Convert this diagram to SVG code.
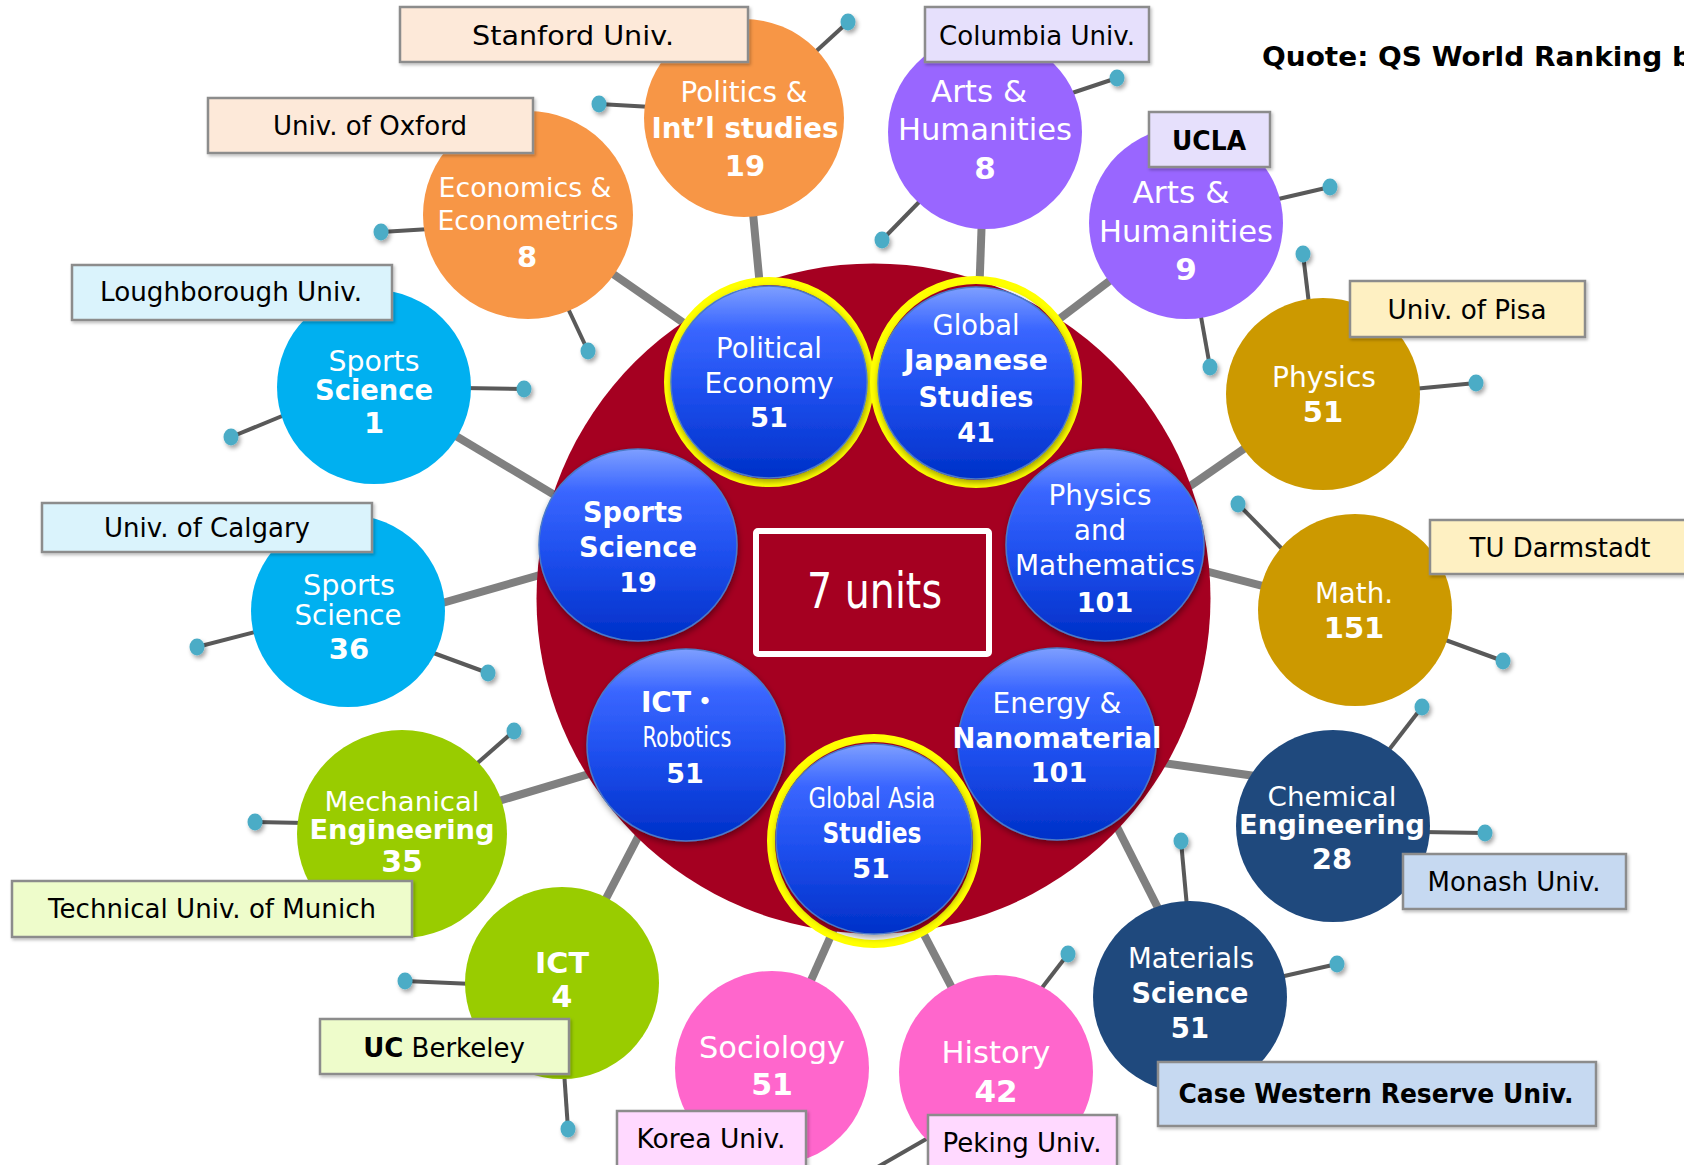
<svg xmlns="http://www.w3.org/2000/svg" width="1684" height="1165" viewBox="0 0 1684 1165">
<defs>
<style>
.w{font-family:"DejaVu Sans","Noto Sans CJK JP",sans-serif;fill:#fff;text-anchor:middle;font-weight:normal}
.bd{font-weight:bold}
.lb{font-family:"DejaVu Sans",sans-serif;fill:#000;text-anchor:middle;font-size:26px}
.box{stroke:#8C8C8C;stroke-width:2.5;filter:url(#sh2)}
.thick{stroke:#808080;stroke-width:8;fill:none}
.thin{stroke:#595959;stroke-width:4;fill:none}
.dot{fill:#4BACC6;filter:url(#sh1)}
.bl{fill:url(#bg);stroke:#4A7AC8;stroke-width:1.5;filter:url(#sh3)}
.ring{fill:none;stroke:#FFFF00;stroke-width:8}
.or{fill:#F79646}.pu{fill:#9966FF}.cy{fill:#00B0F0}.go{fill:#CC9900}.gr{fill:#99CC00}.pk{fill:#FF66CC}.nv{fill:#1F497D}
</style>
<linearGradient id="bg" x1="0" y1="0" x2="0" y2="1">
<stop offset="0" stop-color="#7E9FFF"/>
<stop offset="0.22" stop-color="#3A66FF"/>
<stop offset="0.55" stop-color="#1E4FEE"/>
<stop offset="1" stop-color="#0030C8"/>
</linearGradient>
<filter id="sh1" x="-50%" y="-50%" width="200%" height="200%"><feDropShadow dx="2" dy="3" stdDeviation="2" flood-color="#000" flood-opacity="0.35"/></filter>
<filter id="sh2" x="-10%" y="-20%" width="120%" height="140%"><feDropShadow dx="1.5" dy="2" stdDeviation="1.5" flood-color="#000" flood-opacity="0.25"/></filter>
<filter id="sh3" x="-20%" y="-20%" width="140%" height="140%"><feDropShadow dx="1" dy="3" stdDeviation="3" flood-color="#000" flood-opacity="0.4"/></filter>
</defs>
<rect width="1684" height="1165" fill="#fff"/>

<g id="connectors">
<line class="thick" x1="744" y1="118" x2="769" y2="382"/>
<line class="thick" x1="528" y1="215" x2="769" y2="382"/>
<line class="thick" x1="985" y1="132" x2="976" y2="382"/>
<line class="thick" x1="1186" y1="223" x2="976" y2="382"/>
<line class="thick" x1="374" y1="387" x2="638" y2="545"/>
<line class="thick" x1="348" y1="630" x2="638" y2="547"/>
<line class="thick" x1="1323" y1="394" x2="1105" y2="545"/>
<line class="thick" x1="1355" y1="610" x2="1105" y2="545"/>
<line class="thick" x1="402" y1="830" x2="686" y2="745"/>
<line class="thick" x1="562" y1="983" x2="686" y2="745"/>
<line class="thick" x1="772" y1="1068" x2="874" y2="839"/>
<line class="thick" x1="996" y1="1072" x2="874" y2="839"/>
<line class="thick" x1="1057" y1="748" x2="1333" y2="787"/>
<line class="thick" x1="1075" y1="744" x2="1203" y2="997"/>

<line class="thin" x1="812" y1="55" x2="848" y2="22"/>
<line class="thin" x1="652" y1="107" x2="599" y2="104"/>
<line class="thin" x1="430" y1="229" x2="381" y2="232"/>
<line class="thin" x1="565" y1="302" x2="588" y2="351"/>
<line class="thin" x1="1066" y1="95" x2="1117" y2="78"/>
<line class="thin" x1="923" y1="198" x2="882" y2="240"/>
<line class="thin" x1="1274" y1="200" x2="1330" y2="187"/>
<line class="thin" x1="1200" y1="311" x2="1210" y2="367"/>
<line class="thin" x1="463" y1="388" x2="524" y2="389"/>
<line class="thin" x1="287" y1="414" x2="231" y2="437"/>
<line class="thin" x1="259" y1="631" x2="197" y2="647"/>
<line class="thin" x1="428" y1="651" x2="488" y2="673"/>
<line class="thin" x1="1309" y1="304" x2="1303" y2="254"/>
<line class="thin" x1="1413" y1="389" x2="1476" y2="383"/>
<line class="thin" x1="1287" y1="554" x2="1238" y2="504"/>
<line class="thin" x1="1440" y1="638" x2="1503" y2="661"/>
<line class="thin" x1="473" y1="767" x2="514" y2="731"/>
<line class="thin" x1="305" y1="823" x2="255" y2="822"/>
<line class="thin" x1="473" y1="984" x2="405" y2="981"/>
<line class="thin" x1="564" y1="1071" x2="568" y2="1129"/>
<line class="thin" x1="1038" y1="993" x2="1068" y2="954"/>
<line class="thin" x1="935" y1="1134" x2="855" y2="1180"/>
<line class="thin" x1="1385" y1="755" x2="1422" y2="707"/>
<line class="thin" x1="1422" y1="832" x2="1485" y2="833"/>
<line class="thin" x1="1187" y1="907" x2="1181" y2="841"/>
<line class="thin" x1="1280" y1="977" x2="1337" y2="964"/>

<ellipse class="dot" cx="848" cy="22" rx="7.5" ry="8.5"/>
<ellipse class="dot" cx="599" cy="104" rx="7.5" ry="8.5"/>
<ellipse class="dot" cx="381" cy="232" rx="7.5" ry="8.5"/>
<ellipse class="dot" cx="588" cy="351" rx="7.5" ry="8.5"/>
<ellipse class="dot" cx="1117" cy="78" rx="7.5" ry="8.5"/>
<ellipse class="dot" cx="882" cy="240" rx="7.5" ry="8.5"/>
<ellipse class="dot" cx="1330" cy="187" rx="7.5" ry="8.5"/>
<ellipse class="dot" cx="1210" cy="367" rx="7.5" ry="8.5"/>
<ellipse class="dot" cx="524" cy="389" rx="7.5" ry="8.5"/>
<ellipse class="dot" cx="231" cy="437" rx="7.5" ry="8.5"/>
<ellipse class="dot" cx="197" cy="647" rx="7.5" ry="8.5"/>
<ellipse class="dot" cx="488" cy="673" rx="7.5" ry="8.5"/>
<ellipse class="dot" cx="1303" cy="254" rx="7.5" ry="8.5"/>
<ellipse class="dot" cx="1476" cy="383" rx="7.5" ry="8.5"/>
<ellipse class="dot" cx="1238" cy="504" rx="7.5" ry="8.5"/>
<ellipse class="dot" cx="1503" cy="661" rx="7.5" ry="8.5"/>
<ellipse class="dot" cx="514" cy="731" rx="7.5" ry="8.5"/>
<ellipse class="dot" cx="255" cy="822" rx="7.5" ry="8.5"/>
<ellipse class="dot" cx="405" cy="981" rx="7.5" ry="8.5"/>
<ellipse class="dot" cx="568" cy="1129" rx="7.5" ry="8.5"/>
<ellipse class="dot" cx="1068" cy="954" rx="7.5" ry="8.5"/>
<ellipse class="dot" cx="1422" cy="707" rx="7.5" ry="8.5"/>
<ellipse class="dot" cx="1485" cy="833" rx="7.5" ry="8.5"/>
<ellipse class="dot" cx="1181" cy="841" rx="7.5" ry="8.5"/>
<ellipse class="dot" cx="1337" cy="964" rx="7.5" ry="8.5"/>
</g>

<g id="hub">
<ellipse cx="873.5" cy="598.5" rx="337" ry="335" fill="#A50021"/>
<rect x="756" y="531" width="233" height="123" rx="2" fill="none" stroke="#fff" stroke-width="6"/>
<text class="w" font-size="50" x="874.5" y="608" textLength="135" lengthAdjust="spacingAndGlyphs">7 units</text>
</g>

<g id="u-political-economy">
<ellipse class="ring" cx="769" cy="382" rx="101" ry="101"/>
<ellipse class="bl" cx="769" cy="382" rx="98" ry="96"/>
<text class="w" font-size="27.5" x="769" y="358" textLength="106" lengthAdjust="spacingAndGlyphs">Political</text>
<text class="w" font-size="27.5" x="769" y="393" textLength="129" lengthAdjust="spacingAndGlyphs">Economy</text>
<text class="w bd" font-size="27" x="769" y="427">51</text>
</g>
<g id="u-global-japanese">
<ellipse class="ring" cx="976" cy="382" rx="102" ry="102"/>
<ellipse class="bl" cx="976" cy="383" rx="98" ry="96"/>
<text class="w" font-size="27.5" x="976" y="335" textLength="87" lengthAdjust="spacingAndGlyphs">Global</text>
<text class="w bd" font-size="27.5" x="976" y="370" textLength="144" lengthAdjust="spacingAndGlyphs">Japanese</text>
<text class="w bd" font-size="27.5" x="976" y="407" textLength="115" lengthAdjust="spacingAndGlyphs">Studies</text>
<text class="w bd" font-size="27" x="976" y="442">41</text>
</g>
<g id="u-sports-science">
<ellipse class="bl" cx="638" cy="545" rx="99" ry="96"/>
<text class="w bd" font-size="27.5" x="633" y="522" textLength="100" lengthAdjust="spacingAndGlyphs">Sports</text>
<text class="w bd" font-size="27.5" x="638" y="557" textLength="118" lengthAdjust="spacingAndGlyphs">Science</text>
<text class="w bd" font-size="27" x="638" y="592">19</text>
</g>
<g id="u-physics-math">
<ellipse class="bl" cx="1105" cy="545" rx="99" ry="96"/>
<text class="w" font-size="27.5" x="1100" y="505" textLength="103" lengthAdjust="spacingAndGlyphs">Physics</text>
<text class="w" font-size="27.5" x="1100" y="540" textLength="52" lengthAdjust="spacingAndGlyphs">and</text>
<text class="w" font-size="27.5" x="1105" y="575" textLength="180" lengthAdjust="spacingAndGlyphs">Mathematics</text>
<text class="w bd" font-size="27" x="1105" y="612">101</text>
</g>
<g id="u-ict-robotics">
<ellipse class="bl" cx="686" cy="745" rx="99" ry="96"/>
<text class="w bd" font-size="28" x="680" y="712">ICT・</text>
<text class="w" font-size="27.5" x="687" y="747" textLength="89" lengthAdjust="spacingAndGlyphs">Robotics</text>
<text class="w bd" font-size="27" x="685" y="783">51</text>
</g>
<g id="u-energy-nano">
<ellipse class="bl" cx="1057" cy="744" rx="99" ry="96"/>
<text class="w" font-size="27.5" x="1057" y="713" textLength="129" lengthAdjust="spacingAndGlyphs">Energy &amp;</text>
<text class="w bd" font-size="27.5" x="1057" y="748" textLength="209" lengthAdjust="spacingAndGlyphs">Nanomaterial</text>
<text class="w bd" font-size="27" x="1059" y="782">101</text>
</g>
<g id="u-global-asia">
<ellipse class="ring" cx="874" cy="841" rx="103" ry="103"/>
<ellipse class="bl" cx="874" cy="839" rx="98" ry="95"/>
<text class="w" font-size="27.5" x="872" y="808" textLength="127" lengthAdjust="spacingAndGlyphs">Global Asia</text>
<text class="w bd" font-size="27.5" x="872" y="843" textLength="99" lengthAdjust="spacingAndGlyphs">Studies</text>
<text class="w bd" font-size="27" x="871" y="878">51</text>
</g>

<g id="n-politics">
<ellipse class="or" cx="744" cy="118" rx="100" ry="99"/>
<text class="w" font-size="27.5" x="744" y="102" textLength="127" lengthAdjust="spacingAndGlyphs">Politics &amp;</text>
<text class="w bd" font-size="27.5" x="745" y="138" textLength="187" lengthAdjust="spacingAndGlyphs">Int’l studies</text>
<text class="w bd" font-size="29" x="745" y="176">19</text>
</g>
<g id="n-economics">
<ellipse class="or" cx="528" cy="215" rx="105" ry="104"/>
<text class="w" font-size="26.5" x="525" y="197" textLength="173" lengthAdjust="spacingAndGlyphs">Economics &amp;</text>
<text class="w" font-size="26.5" x="528" y="230" textLength="181" lengthAdjust="spacingAndGlyphs">Econometrics</text>
<text class="w bd" font-size="29" x="527" y="267">8</text>
</g>
<g id="n-arts-8">
<ellipse class="pu" cx="985" cy="132" rx="97" ry="97"/>
<text class="w" font-size="30" x="979" y="102" textLength="96" lengthAdjust="spacingAndGlyphs">Arts &amp;</text>
<text class="w" font-size="30" x="985" y="140" textLength="174" lengthAdjust="spacingAndGlyphs">Humanities</text>
<text class="w bd" font-size="31" x="985" y="179">8</text>
</g>
<g id="n-arts-9">
<ellipse class="pu" cx="1186" cy="223" rx="97" ry="96"/>
<text class="w" font-size="30" x="1181" y="203" textLength="97" lengthAdjust="spacingAndGlyphs">Arts &amp;</text>
<text class="w" font-size="30" x="1186" y="242" textLength="174" lengthAdjust="spacingAndGlyphs">Humanities</text>
<text class="w bd" font-size="31" x="1186" y="280">9</text>
</g>
<g id="n-sports-1">
<ellipse class="cy" cx="374" cy="387" rx="97" ry="97"/>
<text class="w" font-size="27.5" x="374" y="371" textLength="91" lengthAdjust="spacingAndGlyphs">Sports</text>
<text class="w bd" font-size="27.5" x="374" y="400" textLength="118" lengthAdjust="spacingAndGlyphs">Science</text>
<text class="w bd" font-size="29" x="374" y="433">1</text>
</g>
<g id="n-sports-36">
<ellipse class="cy" cx="348" cy="611" rx="97" ry="96"/>
<text class="w" font-size="27.5" x="349" y="595" textLength="92" lengthAdjust="spacingAndGlyphs">Sports</text>
<text class="w" font-size="27.5" x="348" y="625" textLength="107" lengthAdjust="spacingAndGlyphs">Science</text>
<text class="w bd" font-size="29" x="349" y="659">36</text>
</g>
<g id="n-physics">
<ellipse class="go" cx="1323" cy="394" rx="97" ry="96"/>
<text class="w" font-size="27.5" x="1324" y="387" textLength="104" lengthAdjust="spacingAndGlyphs">Physics</text>
<text class="w bd" font-size="29" x="1323" y="422">51</text>
</g>
<g id="n-math">
<ellipse class="go" cx="1355" cy="610" rx="97" ry="96"/>
<text class="w" font-size="27.5" x="1354" y="603" textLength="78" lengthAdjust="spacingAndGlyphs">Math.</text>
<text class="w bd" font-size="29" x="1354" y="638">151</text>
</g>
<g id="n-mechanical">
<ellipse class="gr" cx="402" cy="834" rx="105" ry="104"/>
<text class="w" font-size="27" x="402" y="811" textLength="155" lengthAdjust="spacingAndGlyphs">Mechanical</text>
<text class="w bd" font-size="27" x="402" y="839" textLength="185" lengthAdjust="spacingAndGlyphs">Engineering</text>
<text class="w bd" font-size="30" x="402" y="872">35</text>
</g>
<g id="n-ict">
<ellipse class="gr" cx="562" cy="983" rx="97" ry="96"/>
<text class="w bd" font-size="29" x="562" y="973" textLength="54" lengthAdjust="spacingAndGlyphs">ICT</text>
<text class="w bd" font-size="30" x="562" y="1007">4</text>
</g>
<g id="n-sociology">
<ellipse class="pk" cx="772" cy="1068" rx="97" ry="97"/>
<text class="w" font-size="30.5" x="772" y="1058" textLength="146" lengthAdjust="spacingAndGlyphs">Sociology</text>
<text class="w bd" font-size="30" x="772" y="1095">51</text>
</g>
<g id="n-history">
<ellipse class="pk" cx="996" cy="1072" rx="97" ry="97"/>
<text class="w" font-size="30.5" x="996" y="1063" textLength="109" lengthAdjust="spacingAndGlyphs">History</text>
<text class="w bd" font-size="31" x="996" y="1102">42</text>
</g>
<g id="n-chemical">
<ellipse class="nv" cx="1333" cy="826" rx="97" ry="96"/>
<text class="w" font-size="27" x="1332" y="806" textLength="129" lengthAdjust="spacingAndGlyphs">Chemical</text>
<text class="w bd" font-size="27" x="1332" y="834" textLength="186" lengthAdjust="spacingAndGlyphs">Engineering</text>
<text class="w bd" font-size="29" x="1332" y="869">28</text>
</g>
<g id="n-materials">
<ellipse class="nv" cx="1190" cy="997" rx="97" ry="96"/>
<text class="w" font-size="27.5" x="1191" y="968" textLength="126" lengthAdjust="spacingAndGlyphs">Materials</text>
<text class="w bd" font-size="27.5" x="1190" y="1003" textLength="117" lengthAdjust="spacingAndGlyphs">Science</text>
<text class="w bd" font-size="27.5" x="1190" y="1038">51</text>
</g>

<g id="l-stanford"><rect class="box" x="400" y="7" width="348" height="55" fill="#FDE9D9"/><text class="lb" x="573" y="45" textLength="202" lengthAdjust="spacingAndGlyphs">Stanford Univ.</text></g>
<g id="l-oxford"><rect class="box" x="208" y="98" width="325" height="55" fill="#FDE9D9"/><text class="lb" x="370" y="135" textLength="194" lengthAdjust="spacingAndGlyphs">Univ. of Oxford</text></g>
<g id="l-loughborough"><rect class="box" x="72" y="265" width="320" height="55" fill="#DAF3FC"/><text class="lb" x="231" y="301" textLength="262" lengthAdjust="spacingAndGlyphs">Loughborough Univ.</text></g>
<g id="l-columbia"><rect class="box" x="925" y="7" width="224" height="55" fill="#E6E0FC"/><text class="lb" x="1037" y="45" textLength="196" lengthAdjust="spacingAndGlyphs">Columbia Univ.</text></g>
<g id="l-ucla"><rect class="box" x="1149" y="112" width="121" height="55" fill="#E6E0FC"/><text class="lb" font-weight="bold" x="1209" y="150" textLength="74" lengthAdjust="spacingAndGlyphs">UCLA</text></g>
<g id="l-pisa"><rect class="box" x="1350" y="281" width="235" height="56" fill="#FEF0C2"/><text class="lb" x="1467" y="319" textLength="159" lengthAdjust="spacingAndGlyphs">Univ. of Pisa</text></g>
<g id="l-calgary"><rect class="box" x="42" y="503" width="330" height="49" fill="#DAF3FC"/><text class="lb" x="207" y="537" textLength="206" lengthAdjust="spacingAndGlyphs">Univ. of Calgary</text></g>
<g id="l-darmstadt"><rect class="box" x="1430" y="520" width="270" height="54" fill="#FEF0C2"/><text class="lb" x="1560" y="557" textLength="181" lengthAdjust="spacingAndGlyphs">TU Darmstadt</text></g>
<g id="l-munich"><rect class="box" x="12" y="881" width="400" height="56" fill="#EEFCCB"/><text class="lb" x="212" y="918" textLength="328" lengthAdjust="spacingAndGlyphs">Technical Univ. of Munich</text></g>
<g id="l-berkeley"><rect class="box" x="320" y="1019" width="249" height="55" fill="#EEFCCB"/><text class="lb" font-size="25.5" x="444" y="1057"><tspan font-weight="bold">UC</tspan> Berkeley</text></g>
<g id="l-korea"><rect class="box" x="617" y="1111" width="189" height="70" fill="#FFD9FF"/><text class="lb" x="711" y="1148" textLength="149" lengthAdjust="spacingAndGlyphs">Korea Univ.</text></g>
<g id="l-peking"><rect class="box" x="928" y="1115" width="189" height="70" fill="#FFD9FF"/><text class="lb" x="1022" y="1152" textLength="159" lengthAdjust="spacingAndGlyphs">Peking Univ.</text></g>
<g id="l-monash"><rect class="box" x="1403" y="854" width="223" height="55" fill="#C6D9F1"/><text class="lb" x="1514" y="891" textLength="173" lengthAdjust="spacingAndGlyphs">Monash Univ.</text></g>
<g id="l-case"><rect class="box" x="1158" y="1062" width="438" height="64" fill="#C6D9F1"/><text class="lb" font-weight="bold" font-size="25" x="1376" y="1103" textLength="395" lengthAdjust="spacingAndGlyphs">Case Western Reserve Univ.</text></g>

<text x="1262" y="66" font-family="DejaVu Sans, sans-serif" font-weight="bold" font-size="27" fill="#000" textLength="430" lengthAdjust="spacingAndGlyphs">Quote: QS World Ranking b</text>
</svg>
